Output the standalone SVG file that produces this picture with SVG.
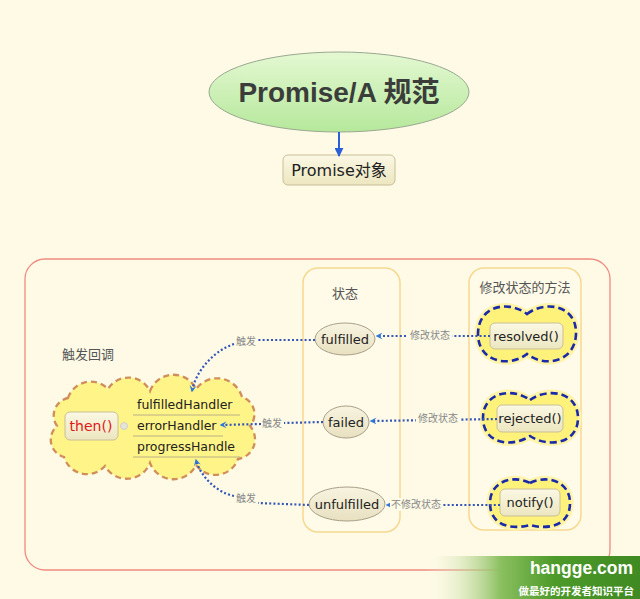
<svg xmlns="http://www.w3.org/2000/svg" width="640" height="599" viewBox="0 0 640 599">
<style>
.t{font-family:"DejaVu Sans","Noto Sans CJK SC",sans-serif;fill:#222}
.lbl{font-family:"Liberation Sans","Noto Sans CJK SC",sans-serif;fill:#888;font-size:10px}
.grp{font-family:"Liberation Sans","Noto Sans CJK SC",sans-serif;fill:#555;font-size:13px}
.st{fill:url(#stG);stroke:#a8a088;stroke-width:1}
.box{fill:url(#boxG);stroke:#c8bf98;stroke-width:1}
.dot{fill:none;stroke:#3556b8;stroke-width:2.2;stroke-dasharray:2 2.2}
.glow{fill:#fff27a;stroke:#fff4a8;stroke-width:7}
.bc{fill:#fff27a;stroke:#1a2aa8;stroke-width:2.6;stroke-dasharray:7 4}
.hl{stroke:#b8b088;stroke-width:1}
</style>
<defs>
<linearGradient id="elG" x1="0" y1="0" x2="0" y2="1"><stop offset="0" stop-color="#e4f8d2"/><stop offset="1" stop-color="#b6e89c"/></linearGradient>
<linearGradient id="boxG" x1="0" y1="0" x2="0" y2="1"><stop offset="0" stop-color="#fbf8e4"/><stop offset="1" stop-color="#ece6c0"/></linearGradient>
<linearGradient id="stG" x1="0" y1="0" x2="0" y2="1"><stop offset="0" stop-color="#f8f4e0"/><stop offset="1" stop-color="#e8e0c0"/></linearGradient>
<linearGradient id="wm" x1="0" y1="0" x2="1" y2="0"><stop offset="0" stop-color="#fdfae8" stop-opacity="0"/><stop offset="0.35" stop-color="#8cc060"/><stop offset="0.6" stop-color="#4d9a2a"/><stop offset="1" stop-color="#3f8a22"/></linearGradient>
<marker id="ah" viewBox="0 0 10 10" refX="8" refY="5" markerWidth="7" markerHeight="7" orient="auto" markerUnits="userSpaceOnUse"><path d="M0,0 L10,5 L0,10 L4,5 Z" fill="#2f7ad8"/></marker>
<marker id="ta" viewBox="0 0 10 10" refX="9" refY="5" markerWidth="9" markerHeight="9" orient="auto" markerUnits="userSpaceOnUse"><path d="M0,0 L10,5 L0,10 Z" fill="#2a5fd8"/></marker>
</defs>
<rect width="640" height="599" fill="#fefae6"/>

<g id="root">
<ellipse cx="339" cy="92" rx="130" ry="40" fill="url(#elG)" stroke="#9aa890" stroke-width="1"/>
<text x="339" y="102" text-anchor="middle" font-size="28" font-weight="bold" font-family="Liberation Sans,Noto Sans CJK SC,sans-serif" fill="#3a3d3a">Promise/A 规范</text>
</g>
<g id="promiseObj">
<rect class="box" x="283" y="155" width="112" height="30" rx="5"/>
<text class="t" x="339" y="176" text-anchor="middle" font-size="16">Promise对象</text>
</g>

<g id="container">
<rect x="25" y="259" width="585" height="311" rx="20" fill="none" stroke="#f08a80" stroke-width="1.3"/>
</g>
<g id="statesGroup">
<rect x="303" y="268" width="97" height="264" rx="15" fill="#fffbe8" stroke="#f7d890" stroke-width="1.5"/>
<text class="grp" x="345" y="298" text-anchor="middle">状态</text>
</g>
<g id="methodsGroup">
<rect x="469" y="268" width="112" height="262" rx="15" fill="#fffbe8" stroke="#f7d890" stroke-width="1.5"/>
<text class="grp" x="525" y="292" text-anchor="middle">修改状态的方法</text>
</g>
<g id="callbackGroup">
<text class="grp" x="62" y="359">触发回调</text>
</g>

<g id="fulfilled">
<ellipse class="st" cx="345" cy="339" rx="30" ry="16"/>
<text class="t" x="345" y="344" text-anchor="middle" font-size="13">fulfilled</text>
</g>
<g id="failed">
<ellipse class="st" cx="346" cy="422" rx="23" ry="16"/>
<text class="t" x="346" y="427" text-anchor="middle" font-size="13">failed</text>
</g>
<g id="unfulfilled">
<ellipse class="st" cx="347" cy="504" rx="38" ry="17"/>
<text class="t" x="347" y="509" text-anchor="middle" font-size="13">unfulfilled</text>
</g>

<g id="resolved">
<path class="glow" d="M527,314 C545,300 577,305 576,334 C575,362 545,368 527,354 C509,368 478,362 478,334 C478,305 509,300 527,314 Z"/>
<path class="bc" d="M527,314 C545,300 577,305 576,334 C575,362 545,368 527,354 C509,368 478,362 478,334 C478,305 509,300 527,314 Z"/>
<rect class="box" x="490" y="323" width="73" height="26" rx="5"/>
<text class="t" x="526" y="341" text-anchor="middle" font-size="13">resolved()</text>
</g>
<g id="rejected">
<path class="glow" d="M530,400 C548,387 578,392 578,418 C578,444 548,448 530,436 C512,448 483,444 483,418 C483,392 512,387 530,400 Z"/>
<path class="bc" d="M530,400 C548,387 578,392 578,418 C578,444 548,448 530,436 C512,448 483,444 483,418 C483,392 512,387 530,400 Z"/>
<rect class="box" x="497" y="405" width="66" height="27" rx="5"/>
<text class="t" x="530" y="423" text-anchor="middle" font-size="13">rejected()</text>
</g>
<g id="notify">
<path class="glow" d="M530,483 C548,474 570,482 570,503 C570,526 548,530 530,525 C512,530 490,526 490,503 C490,482 512,474 530,483 Z"/>
<path class="bc" d="M530,483 C548,474 570,482 570,503 C570,526 548,530 530,525 C512,530 490,526 490,503 C490,482 512,474 530,483 Z"/>
<rect class="box" x="500" y="489" width="60" height="27" rx="5"/>
<text class="t" x="530" y="507" text-anchor="middle" font-size="13">notify()</text>
</g>

<g id="then">
<path d="M68,398 A24,24 0 0 1 108,389 A24,24 0 0 1 150,391 A25,25 0 0 1 196,389 A26,26 0 0 1 242,397 A18,18 0 0 1 250,426 A20,20 0 0 1 238,459 A24,24 0 0 1 196,465 A25,25 0 0 1 150,463 A25,25 0 0 1 105,466 A24,24 0 0 1 64,457 A18,18 0 0 1 57,426 A18,18 0 0 1 68,398 Z" fill="#fff488" stroke="#cf8e5a" stroke-width="2.3" stroke-dasharray="6 4"/>
<rect class="box" x="65" y="412" width="53" height="28" rx="5"/>
<text x="91" y="431" text-anchor="middle" font-size="14" font-family="DejaVu Sans,sans-serif" fill="#e01818">then()</text>
<circle cx="124" cy="426" r="3.5" fill="#e4e4dc" stroke="#c8c8c0" stroke-width="0.8"/>
<line class="hl" x1="133" y1="415" x2="240" y2="415"/>
<line class="hl" x1="133" y1="436" x2="223" y2="436"/>
<line class="hl" x1="133" y1="457" x2="240" y2="457"/>
<text class="t" x="137" y="409" font-size="12.5">fulfilledHandler</text>
<text class="t" x="137" y="430" font-size="12.5">errorHandler</text>
<text class="t" x="137" y="451" font-size="12.5">progressHandle</text>
</g>

<g id="connectors">
<path d="M339,132 L339,156" stroke="#2a5fd8" stroke-width="2" fill="none" marker-end="url(#ta)"/>
<path class="dot" d="M490,336 L377,336" marker-end="url(#ah)"/>
<path class="dot" d="M497,419 L371,421" marker-end="url(#ah)"/>
<path class="dot" d="M500,505 L387,505" marker-end="url(#ah)"/>
<path class="dot" d="M315,340 L258,340 M234,344 C215,350 196,370 192,391" marker-end="url(#ah)"/>
<path class="dot" d="M323,422 L284,423 M261,424 L221,425" marker-end="url(#ah)"/>
<path class="dot" d="M309,505 L258,503 M234,496 C215,492 200,475 196,460" marker-end="url(#ah)"/>
</g>
<g id="connectorLabels">
<rect x="408" y="329" width="44" height="13" fill="#fefae6"/>
<text class="lbl" x="430" y="339" text-anchor="middle">修改状态</text>
<rect x="416" y="412" width="44" height="13" fill="#fefae6"/>
<text class="lbl" x="438" y="422" text-anchor="middle">修改状态</text>
<rect x="390" y="498" width="52" height="13" fill="#fefae6"/>
<text class="lbl" x="416" y="508" text-anchor="middle">不修改状态</text>
<text class="lbl" x="246" y="345" text-anchor="middle">触发</text>
<text class="lbl" x="272" y="427" text-anchor="middle">触发</text>
<text class="lbl" x="246" y="502" text-anchor="middle">触发</text>
</g>

<g id="watermark">
<rect x="425" y="556" width="215" height="43" fill="url(#wm)"/>
<text x="633" y="574" text-anchor="end" font-family="Liberation Sans,sans-serif" font-weight="bold" font-size="17.5" fill="#fff">hangge.com</text>
<text x="634" y="595" text-anchor="end" font-family="Noto Sans CJK SC,sans-serif" font-weight="bold" font-size="10.5" fill="#fff">做最好的开发者知识平台</text>
</g>
</svg>
